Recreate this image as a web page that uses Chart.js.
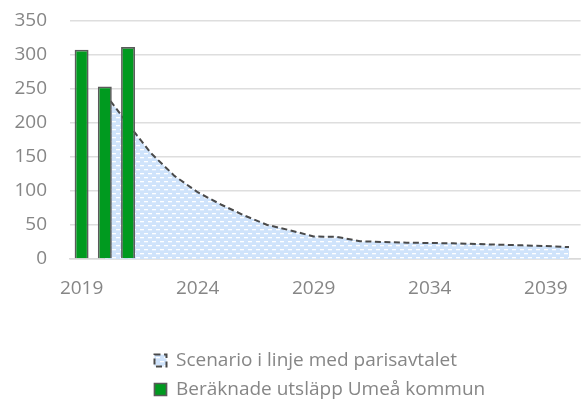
<!DOCTYPE html>
<html><head><meta charset="utf-8">
<script src="https://cdn.jsdelivr.net/npm/chart.js@4"></script>
<style>html,body{margin:0;padding:0;background:#fff;overflow:hidden}#wrap{position:relative;width:587px;height:409px}</style>
</head><body><div id="wrap"><canvas id="c"></canvas></div>
<script>
const years = ['2019','2020','2021','2022','2023','2024','2025','2026','2027','2028','2029','2030','2031','2032','2033','2034','2035','2036','2037','2038','2039','2040'];
const xTickLabels = ['2019','2024','2029','2034','2039'];
const scenario = [null,243,198,155,122,98,80,64,50,42,33,32.5,26,25,24,23.5,23,22,21,20,19,17.5];
const scenarioBase = [null,0,0,0,0,0,0,0,0,0,0,0,0,0,0,0,0,0,0,0,0,0];
const emissions = [307,253,311,null,null,null,null,null,null,null,null,null,null,null,null,null,null,null,null,null,null,null];
const seriesNames = ['Scenario i linje med parisavtalet','Beräknade utsläpp Umeå kommun'];

function makePattern(){
  const p = document.createElement('canvas');
  p.width = 8; p.height = 8;
  const g = p.getContext('2d');
  g.fillStyle = '#cfe3fb';
  g.fillRect(0,0,8,8);
  g.fillStyle = '#ffffff';
  g.fillRect(0,1,4,1.3);
  g.fillRect(4,5,4,1.3);
  return g.createPattern(p,'repeat');
}
const pattern = makePattern();
const labelColor = '#868686';

const legendShift = {
  id: 'legendShift',
  afterLayout(chart) {
    if (chart.legend) { chart.legend.left = 144.5; }
  }
};

new Chart(document.getElementById('c'), {
  data: {
    labels: years,
    datasets: [
      {
        type: 'line', label: seriesNames[0], data: scenario,
        fill: 'origin', backgroundColor: pattern,
        borderColor: '#4a4a4a', borderWidth: 2, borderDash: [6,3.5],
        pointRadius: 0, tension: 0, order: 2
      },
      {
        type: 'bar', label: seriesNames[1], data: emissions,
        backgroundColor: '#009a1f', borderColor: '#5a5a5a', borderWidth: 1.7,
        categoryPercentage: 1, barPercentage: 0.6, order: 1
      },
      {
        type: 'line', label: '_base', data: scenarioBase,
        fill: false, borderColor: '#9a9a9a', borderWidth: 1.5, borderDash: [6,3.5],
        pointRadius: 0, order: 3
      }
    ]
  },
  plugins: [legendShift],
  options: {
    responsive: true, maintainAspectRatio: false, animation: false, devicePixelRatio: 1,
    layout: { padding: { top: 0, left: 0, right: 0, bottom: 0 } },
    scales: {
      x: {
        offset: true,
        grid: { display: false, drawTicks: false },
        border: { display: true, color: '#d9d9d9', width: 1.5 },
        ticks: {
          autoSkip: false, maxRotation: 0, padding: 18, color: labelColor,
          font: { family: 'Open Sans', size: 19 },
          callback: function(v){ const l = this.getLabelForValue(v); return xTickLabels.includes(l) ? l : ''; }
        },
        afterFit: s => { s.height = 82; }
      },
      y: {
        min: 0, max: 350,
        grid: { color: '#dedede', lineWidth: 1.5, drawTicks: false },
        border: { display: false },
        ticks: { stepSize: 50, padding: 23, color: labelColor, font: { family: 'Open Sans', size: 19 } },
        afterFit: s => { s.width = 70; s.paddingTop = 20.5; s.paddingBottom = 12; }
      }
    },
    plugins: {
      tooltip: { enabled: false },
      legend: {
        position: 'bottom',
        align: 'start',
        labels: {
          boxWidth: 12, boxHeight: 12, padding: 10, color: labelColor,
          font: { family: 'Open Sans', size: 19 },
          filter: item => item.text !== '_base',
          sort: (a, b) => a.datasetIndex - b.datasetIndex
        }
      }
    }
  }
});
</script></body></html>
